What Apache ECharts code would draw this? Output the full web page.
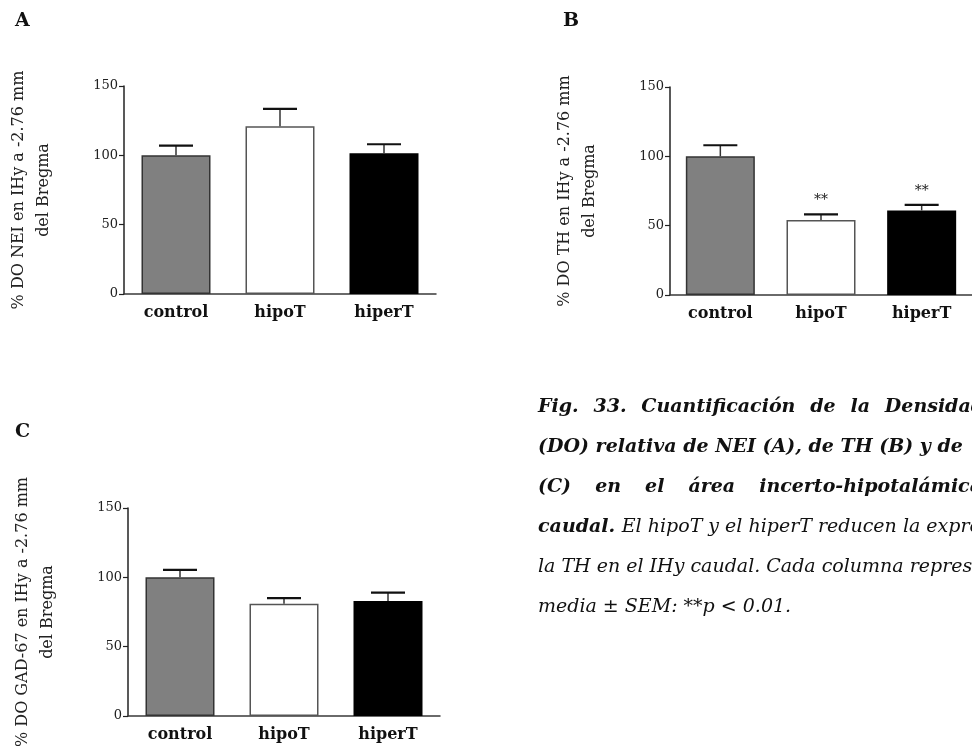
<!DOCTYPE html>
<html>
<head>
<meta charset="utf-8">
<script src="https://cdn.jsdelivr.net/npm/echarts@6/dist/echarts.min.js"></script>
<style>
html,body{margin:0;padding:0;background:#fff;}
#c{width:972px;height:751px;}
</style>
</head>
<body>
<div id="c"></div>
<script>
// ---------- data ----------
const categories = ['control', 'hipoT', 'hiperT'];
const yTicks = [0, 50, 100, 150];

const neiMean = [100, 121, 101.5];
const neiSem  = [7, 12.5, 6.5];
const neiSig  = ['', '', ''];

const thMean = [100, 54, 61];
const thSem  = [8, 4.2, 4];
const thSig  = ['', '**', '**'];

const gadMean = [100, 81, 83];
const gadSem  = [5.4, 4, 6];
const gadSig  = ['', '', ''];

const panelLetters = ['A', 'B', 'C'];
const yNames = [
  '% DO NEI en IHy a -2.76 mm\ndel Bregma',
  '% DO TH en IHy a -2.76 mm\ndel Bregma',
  '% DO GAD-67 en IHy a -2.76 mm\ndel Bregma'
];

const captionLine1 = ['Fig.', '33.', 'Cuantificación', 'de', 'la', 'Densidad'];
const captionLine2 = '(DO) relativa de NEI (A), de TH (B) y de';
const captionLine3 = ['(C)', 'en', 'el', 'área', 'incerto-hipotalámica'];
const captionLine4Bold = 'caudal.';
const captionLine4 = 'El hipoT y el hiperT reducen la expresión de';
const captionLine5 = 'la TH en el IHy caudal. Cada columna representa la';
const captionLine6 = 'media ± SEM: **p < 0.01.';

// ---------- style ----------
const SERIF = "'DejaVu Serif', serif";
const barColors = ['#808080', '#ffffff', '#000000'];
const barBorders = ['#333333', '#555555', '#000000'];

const grids = [
  {left: 124, top: 86, width: 312, height: 208},
  {left: 670, top: 87, width: 312, height: 208},
  {left: 128, top: 508, width: 312, height: 208}
];
const letterPos = [[15, 12], [563, 12], [15, 423]];

const panels = [
  {mean: neiMean, sem: neiSem, sig: neiSig},
  {mean: thMean, sem: thSem, sig: thSig},
  {mean: gadMean, sem: gadSem, sig: gadSig}
];

const chart = echarts.init(document.getElementById('c'), null, {renderer: 'canvas'});

const xAxes = [], yAxes = [], series = [];
panels.forEach((p, k) => {
  xAxes.push({
    type: 'category', gridIndex: k, data: categories,
    axisLine: {lineStyle: {color: '#3a3a3a', width: 1.5}},
    axisTick: {show: false},
    axisLabel: {fontFamily: SERIF, fontWeight: 'bold', fontSize: 16, color: '#111', margin: 11}
  });
  yAxes.push({
    type: 'value', gridIndex: k, min: yTicks[0], max: yTicks[yTicks.length - 1], interval: yTicks[1] - yTicks[0],
    splitLine: {show: false},
    axisLine: {show: true, lineStyle: {color: '#222', width: 1.5}},
    axisTick: {show: true, length: 5, lineStyle: {color: '#222', width: 1.2}},
    axisLabel: {fontFamily: SERIF, fontSize: 13, color: '#222', margin: 6},
    name: yNames[k], nameLocation: 'middle', nameRotate: 90, nameGap: 68,
    nameTextStyle: {fontFamily: SERIF, fontSize: 16, color: '#222', lineHeight: 25}
  });
  series.push({
    type: 'bar', xAxisIndex: k, yAxisIndex: k, barWidth: 69,
    data: p.mean.map((v, i) => ({
      value: v,
      itemStyle: {color: barColors[i], borderColor: barBorders[i], borderWidth: 1.5}
    })),
    animation: false, z: 2
  });
  series.push({
    type: 'custom', xAxisIndex: k, yAxisIndex: k,
    data: p.mean.map((v, i) => [i, v, p.sem[i]]),
    animation: false, z: 3,
    renderItem: function (params, api) {
      const i = api.value(0), m = api.value(1), e = api.value(2);
      const base = api.coord([i, m]);
      const top = api.coord([i, m + e]);
      const hw = 17;
      const children = [
        {type: 'line', shape: {x1: base[0], y1: base[1], x2: top[0], y2: top[1]}, style: {stroke: '#333', lineWidth: 1.5}},
        {type: 'line', shape: {x1: top[0] - hw, y1: top[1], x2: top[0] + hw, y2: top[1]}, style: {stroke: '#111', lineWidth: 2.2}}
      ];
      const s = p.sig[params.dataIndex];
      if (s) {
        children.push({type: 'text', style: {text: s, x: top[0], y: top[1] - 7, align: 'center', verticalAlign: 'bottom',
          font: "14px 'DejaVu Serif'", fill: '#222'}});
      }
      return {type: 'group', children};
    }
  });
});

// ---------- caption layout ----------
const mctx = document.createElement('canvas').getContext('2d');
const FONT_BI = "italic bold 19px 'DejaVu Serif'";
const FONT_I = "italic 19px 'DejaVu Serif'";
function justify(words, x0, x1, font, y) {
  mctx.font = font;
  const ws = words.map(w => mctx.measureText(w).width);
  const total = ws.reduce((a, b) => a + b, 0);
  const gap = (x1 - x0 - total) / (words.length - 1);
  let x = x0;
  return words.map((w, i) => {
    const el = {type: 'text', left: x, top: y - 12, style: {text: w, font: font, fill: '#111'}};
    x += ws[i] + gap;
    return el;
  });
}
const capX = 538;
const lineY = [410, 450, 490, 530, 570, 610];
let graphics = [];
graphics = graphics.concat(justify(captionLine1, capX, 984, FONT_BI, lineY[0]));
graphics.push({type: 'text', left: capX, top: lineY[1] - 12, style: {text: captionLine2, font: FONT_BI, fill: '#111'}});
graphics = graphics.concat(justify(captionLine3, capX, 982, FONT_BI, lineY[2]));
mctx.font = FONT_BI;
const cw = mctx.measureText(captionLine4Bold + ' ').width;
graphics.push({type: 'text', left: capX, top: lineY[3] - 12, style: {text: captionLine4Bold, font: FONT_BI, fill: '#111'}});
graphics.push({type: 'text', left: capX + cw, top: lineY[3] - 12, style: {text: captionLine4, font: FONT_I, fill: '#111'}});
graphics.push({type: 'text', left: capX, top: lineY[4] - 12, style: {text: captionLine5, font: FONT_I, fill: '#111'}});
graphics.push({type: 'text', left: capX, top: lineY[5] - 12, style: {text: captionLine6, font: FONT_I, fill: '#111'}});

panelLetters.forEach((L, k) => {
  graphics.push({type: 'text', left: letterPos[k][0], top: letterPos[k][1],
    style: {text: L, font: "bold 19px 'DejaVu Serif'", fill: '#111'}});
});

chart.setOption({
  backgroundColor: '#ffffff',
  animation: false,
  grid: grids,
  xAxis: xAxes,
  yAxis: yAxes,
  series: series,
  graphic: graphics
});
</script>
</body>
</html>
